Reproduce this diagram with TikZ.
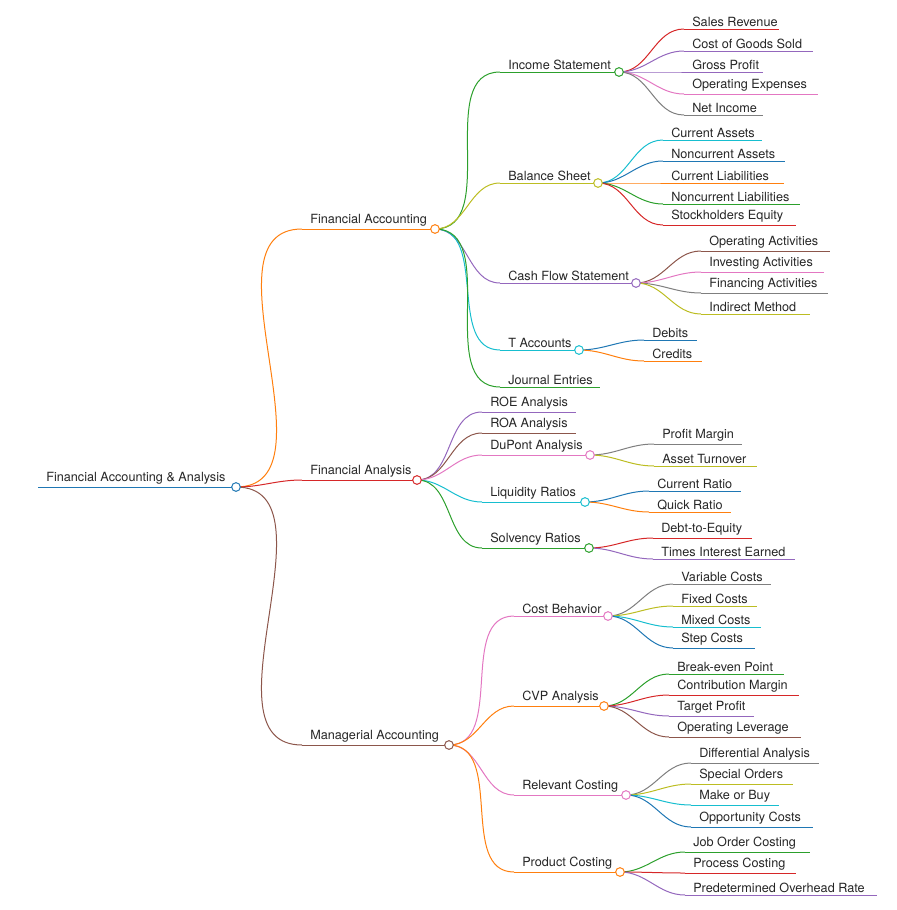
\documentclass[tikz,border=0pt]{standalone}
\usepackage{fontspec}
\setmainfont{TeX Gyre Heros}
\usepackage{tikz}
\definecolor{cBlue}{RGB}{31,119,180}
\definecolor{cOrange}{RGB}{255,127,14}
\definecolor{cRed}{RGB}{214,39,40}
\definecolor{cBrown}{RGB}{140,86,75}
\definecolor{cGreen}{RGB}{44,160,44}
\definecolor{cPurple}{RGB}{148,103,189}
\definecolor{cPink}{RGB}{227,119,194}
\definecolor{cGray}{RGB}{127,127,127}
\definecolor{cOlive}{RGB}{188,189,34}
\definecolor{cCyan}{RGB}{23,190,207}
\tikzset{
  Line/.style={line width=0.75pt},
  Label/.style={anchor=south west, inner sep=1.5pt, xshift=4.5pt, text=black!85, font=\fontsize{9.5}{11}\selectfont},
  Knob/.style={shape=circle, minimum size=6.5pt, inner sep=0pt, fill=white, line width=0.75pt},
  Branch/.style={line width=0.75pt, out=0, in=180},
}
% #1 name, #2 x start, #3 x end, #4 y, #5 colour, #6 text
\newcommand\mitem[6]{%
  \coordinate (#1) at (#2,#4);
  \coordinate (#1-e) at (#3,#4);
  \draw[Line, #5] (#1) -- (#1-e);
  \node[Label] (#1-t) at (#1) {#6};}
\newcommand\mknob[2]{\node[Knob, draw=#2] at (#1-e) {};}
\newcommand\mlink[3]{\draw[Branch, #3] (#1-e) to (#2);}

\begin{document}
\begin{tikzpicture}[x=0.75pt, y=-0.75pt]
	\useasboundingbox (0,0) rectangle (896,910);
	% root and main branches
	\mitem{root}{38}{236}{487}{cBlue}{Financial Accounting \& Analysis}
	\mitem{facc}{302}{435}{229}{cOrange}{Financial Accounting}
	\mitem{fana}{302}{417}{480}{cRed}{Financial Analysis}
	\mitem{macc}{302}{449}{745}{cBrown}{Managerial Accounting}
	\mlink{root}{facc}{cOrange}
	\mlink{root}{fana}{cRed}
	\mlink{root}{macc}{cBrown}

	% financial accounting
	\mitem{inc}{500}{619}{72}{cGreen}{Income Statement}
	\mitem{bal}{500}{598}{183}{cOlive}{Balance Sheet}
	\mitem{cfs}{500}{636}{283}{cPurple}{Cash Flow Statement}
	\mitem{tacc}{500}{579}{350}{cCyan}{T Accounts}
	\mitem{jour}{500}{600}{387}{cGreen}{Journal Entries}
	\mlink{facc}{inc}{cGreen}
	\mlink{facc}{bal}{cOlive}
	\mlink{facc}{cfs}{cPurple}
	\mlink{facc}{tacc}{cCyan}
	\mlink{facc}{jour}{cGreen}

	\mitem{sales}{684}{779}{29}{cRed}{Sales Revenue}
	\mitem{cogs}{684}{813}{51}{cPurple}{Cost of Goods Sold}
	\mitem{gross}{684}{763}{72}{cPurple}{Gross Profit}
	\mitem{opex}{684}{818}{94}{cPink}{Operating Expenses}
	\mitem{net}{684}{763}{115}{cGray}{Net Income}
	\mlink{inc}{sales}{cRed}
	\mlink{inc}{cogs}{cPurple}
	\mlink{inc}{gross}{cPurple}
	\mlink{inc}{opex}{cPink}
	\mlink{inc}{net}{cGray}

	\mitem{cass}{663}{762}{140}{cCyan}{Current Assets}
	\mitem{nass}{663}{785}{161}{cBlue}{Noncurrent Assets}
	\mitem{clia}{663}{784}{183}{cOrange}{Current Liabilities}
	\mitem{nlia}{663}{800}{204}{cGreen}{Noncurrent Liabilities}
	\mitem{equ}{663}{796}{225}{cRed}{Stockholders Equity}
	\mlink{bal}{cass}{cCyan}
	\mlink{bal}{nass}{cBlue}
	\mlink{bal}{clia}{cOrange}
	\mlink{bal}{nlia}{cGreen}
	\mlink{bal}{equ}{cRed}

	\mitem{opact}{701}{830}{251}{cBrown}{Operating Activities}
	\mitem{invact}{701}{824}{272}{cPink}{Investing Activities}
	\mitem{finact}{701}{828}{293}{cGray}{Financing Activities}
	\mitem{indir}{701}{810}{314}{cOlive}{Indirect Method}
	\mlink{cfs}{opact}{cBrown}
	\mlink{cfs}{invact}{cPink}
	\mlink{cfs}{finact}{cGray}
	\mlink{cfs}{indir}{cOlive}

	\mitem{deb}{644}{697}{340}{cBlue}{Debits}
	\mitem{cred}{644}{702}{361}{cOrange}{Credits}
	\mlink{tacc}{deb}{cBlue}
	\mlink{tacc}{cred}{cOrange}

	% financial analysis
	\mitem{roe}{482}{576}{412}{cPurple}{ROE Analysis}
	\mitem{roa}{482}{576}{433}{cBrown}{ROA Analysis}
	\mitem{dup}{482}{590}{455}{cPink}{DuPont Analysis}
	\mitem{liq}{482}{585}{502}{cCyan}{Liquidity Ratios}
	\mitem{solv}{482}{589}{548}{cGreen}{Solvency Ratios}
	\mlink{fana}{roe}{cPurple}
	\mlink{fana}{roa}{cBrown}
	\mlink{fana}{dup}{cPink}
	\mlink{fana}{liq}{cCyan}
	\mlink{fana}{solv}{cGreen}

	\mitem{pmarg}{654}{742}{444}{cGray}{Profit Margin}
	\mitem{aturn}{654}{757}{466}{cOlive}{Asset Turnover}
	\mitem{curr}{649}{741}{491}{cBlue}{Current Ratio}
	\mitem{quick}{649}{731}{512}{cOrange}{Quick Ratio}
	\mitem{dte}{653}{752}{538}{cRed}{Debt-to-Equity}
	\mitem{tie}{653}{795}{559}{cPurple}{Times Interest Earned}
	\mlink{dup}{pmarg}{cGray}
	\mlink{dup}{aturn}{cOlive}
	\mlink{liq}{curr}{cBlue}
	\mlink{liq}{quick}{cOrange}
	\mlink{solv}{dte}{cRed}
	\mlink{solv}{tie}{cPurple}

	% managerial accounting
	\mitem{cbeh}{514}{608}{616}{cPink}{Cost Behavior}
	\mitem{cvp}{514}{604}{706}{cOrange}{CVP Analysis}
	\mitem{rel}{514}{626}{795}{cPink}{Relevant Costing}
	\mitem{prod}{514}{620}{872}{cOrange}{Product Costing}
	\mlink{macc}{cbeh}{cPink}
	\mlink{macc}{cvp}{cOrange}
	\mlink{macc}{rel}{cPink}
	\mlink{macc}{prod}{cOrange}

	\mitem{var}{673}{771}{584}{cGray}{Variable Costs}
	\mitem{fix}{673}{757}{606}{cOlive}{Fixed Costs}
	\mitem{mix}{673}{761}{627}{cCyan}{Mixed Costs}
	\mitem{stepc}{673}{755}{648}{cBlue}{Step Costs}
	\mlink{cbeh}{var}{cGray}
	\mlink{cbeh}{fix}{cOlive}
	\mlink{cbeh}{mix}{cCyan}
	\mlink{cbeh}{stepc}{cBlue}

	\mitem{bep}{669}{784}{674}{cGreen}{Break-even Point}
	\mitem{cm}{669}{799}{695}{cRed}{Contribution Margin}
	\mitem{tp}{669}{754}{716}{cPurple}{Target Profit}
	\mitem{olev}{669}{801}{737}{cBrown}{Operating Leverage}
	\mlink{cvp}{bep}{cGreen}
	\mlink{cvp}{cm}{cRed}
	\mlink{cvp}{tp}{cPurple}
	\mlink{cvp}{olev}{cBrown}

	\mitem{diff}{691}{819}{763}{cGray}{Differential Analysis}
	\mitem{spec}{691}{793}{784}{cOlive}{Special Orders}
	\mitem{mob}{691}{779}{805}{cCyan}{Make or Buy}
	\mitem{opp}{691}{813}{827}{cBlue}{Opportunity Costs}
	\mlink{rel}{diff}{cGray}
	\mlink{rel}{spec}{cOlive}
	\mlink{rel}{mob}{cCyan}
	\mlink{rel}{opp}{cBlue}

	\mitem{job}{685}{810}{852}{cGreen}{Job Order Costing}
	\mitem{proc}{685}{796}{873}{cRed}{Process Costing}
	\mitem{pohr}{685}{877}{895}{cPurple}{Predetermined Overhead Rate}
	\mlink{prod}{job}{cGreen}
	\mlink{prod}{proc}{cRed}
	\mlink{prod}{pohr}{cPurple}

	% knobs on top
	\mknob{root}{cBlue}
	\mknob{facc}{cOrange}
	\mknob{fana}{cRed}
	\mknob{macc}{cBrown}
	\mknob{inc}{cGreen}
	\mknob{bal}{cOlive}
	\mknob{cfs}{cPurple}
	\mknob{tacc}{cCyan}
	\mknob{dup}{cPink}
	\mknob{liq}{cCyan}
	\mknob{solv}{cGreen}
	\mknob{cbeh}{cPink}
	\mknob{cvp}{cOrange}
	\mknob{rel}{cPink}
	\mknob{prod}{cOrange}
\end{tikzpicture}
\end{document}
